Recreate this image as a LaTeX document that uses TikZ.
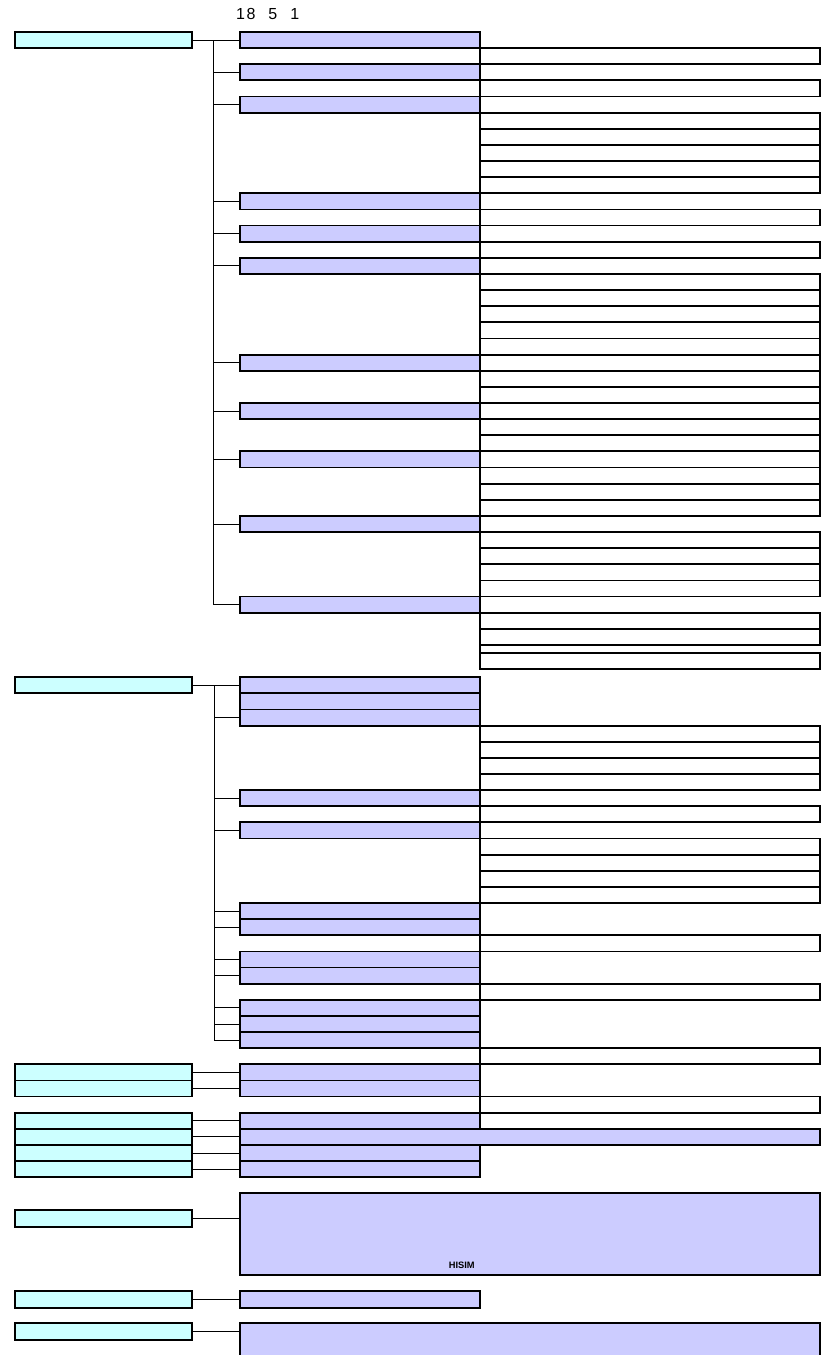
\documentclass[tikz,border=0pt]{standalone}
\usepackage{fontspec}
\setmainfont{Liberation Sans}
\definecolor{cyanbox}{HTML}{CCFFFF}
\definecolor{lavbox}{HTML}{CCCCFF}
\begin{document}
\begin{tikzpicture}[x=1pt,y=-1pt,
  box/.style={draw=black,line width=1.8pt,inner sep=0pt,outer sep=0pt,anchor=north west,minimum height=16.13pt},
  cbox/.style={box,fill=cyanbox,minimum width=177pt},
  lbox/.style={box,fill=lavbox,minimum width=240pt},
  wlbox/.style={box,fill=lavbox,minimum width=580pt},
  wbox/.style={box,fill=white,minimum width=340pt},
  conn/.style={draw=black,line width=0.9pt},
  edge/.style={draw=black,line width=1.8pt}]
\useasboundingbox (0,0) rectangle (831,1355);

% date line
\node[anchor=base west,inner sep=0pt,font=\fontsize{16}{16}\selectfont] (date) at (236,19)
  {1\kern1.5pt 8\hspace{13pt}5\hspace{13.1pt}1};

% ---------- white (small category) boxes ----------
\foreach \k in {1,3,5,6,7,8,9,11,13,15,16,17,18,19,20,21,22,23,24,25,26,27,28,29,31,32,33,34,36,37,43,44,45,46,48,50,51,52,53,56,59,63,66}
  \node[wbox] (w\k) at (480,{32+16.13*\k}) {};
\node[wbox] (sp) at (480,652.7) {};

% ---------- lavender (middle category) boxes ----------
\foreach \k in {0,2,4,10,12,14,20,23,26,30,35,40,41,42,47,49,54,55,57,58,60,61,62,64,65,67,69,70}
  \node[lbox] (m\k) at (240,{32+16.13*\k}) {};
\node[wlbox] (m68) at (240,{32+16.13*68}) {};

% ---------- cyan (top category) boxes ----------
\foreach \k in {0,40,64,65,67,68,69,70}
  \node[cbox] (c\k) at (15,{32+16.13*\k}) {};
\node[cbox,minimum height=17pt] (c5) at (15,1209.7) {};
\node[cbox,minimum height=17pt] (c6) at (15,1290.7) {};
\node[cbox,minimum height=17pt] (c7) at (15,1323.3) {};

% big lavender boxes
\node[box,fill=lavbox,minimum width=580pt,minimum height=81.7pt] (big) at (240,1193.3) {};
\node[anchor=base,inner sep=0pt,font=\fontsize{9.3}{9.3}\selectfont\bfseries] (hisim) at (461.8,1268.3) {HISIM};
\node[lbox,minimum height=17pt] (m6) at (240,1290.7) {};
\node[box,fill=lavbox,minimum width=580pt,minimum height=45pt] (m7) at (240,1323.3) {};

% ---------- vertical joins at x = 480 ----------
\draw[edge] (m0.north east) -- (sp.south west);
\draw[edge] (m40.north east) -- (m40.north east |- m68.north);

% ---------- tree connectors, section 1 ----------
\coordinate (t1) at (213,0);
\draw[conn] (c0.east) -- (m0.west);
\draw[conn] (t1 |- c0.east) -- (t1 |- m35.west);
\foreach \k in {2,4,10,12,14,20,23,26,30,35}
  \draw[conn] (t1 |- m\k.west) -- (m\k.west);

% ---------- tree connectors, section 2 ----------
\coordinate (t2) at (214.3,0);
\draw[conn] (c40.east) -- (m40.west);
\draw[conn] (t2 |- c40.east) -- (t2 |- m62.west);
\foreach \k in {42,47,49,54,55,57,58,60,61,62}
  \draw[conn] (t2 |- m\k.west) -- (m\k.west);

% ---------- direct connectors ----------
\foreach \k in {64,65,67,68,69,70}
  \draw[conn] (c\k.east) -- (m\k.west);
\draw[conn] (c5.east) -- (c5.east -| big.west);
\draw[conn] (c6.east) -- (m6.west);
\draw[conn] (c7.east) -- (c7.east -| m7.west);
\end{tikzpicture}
\end{document}
